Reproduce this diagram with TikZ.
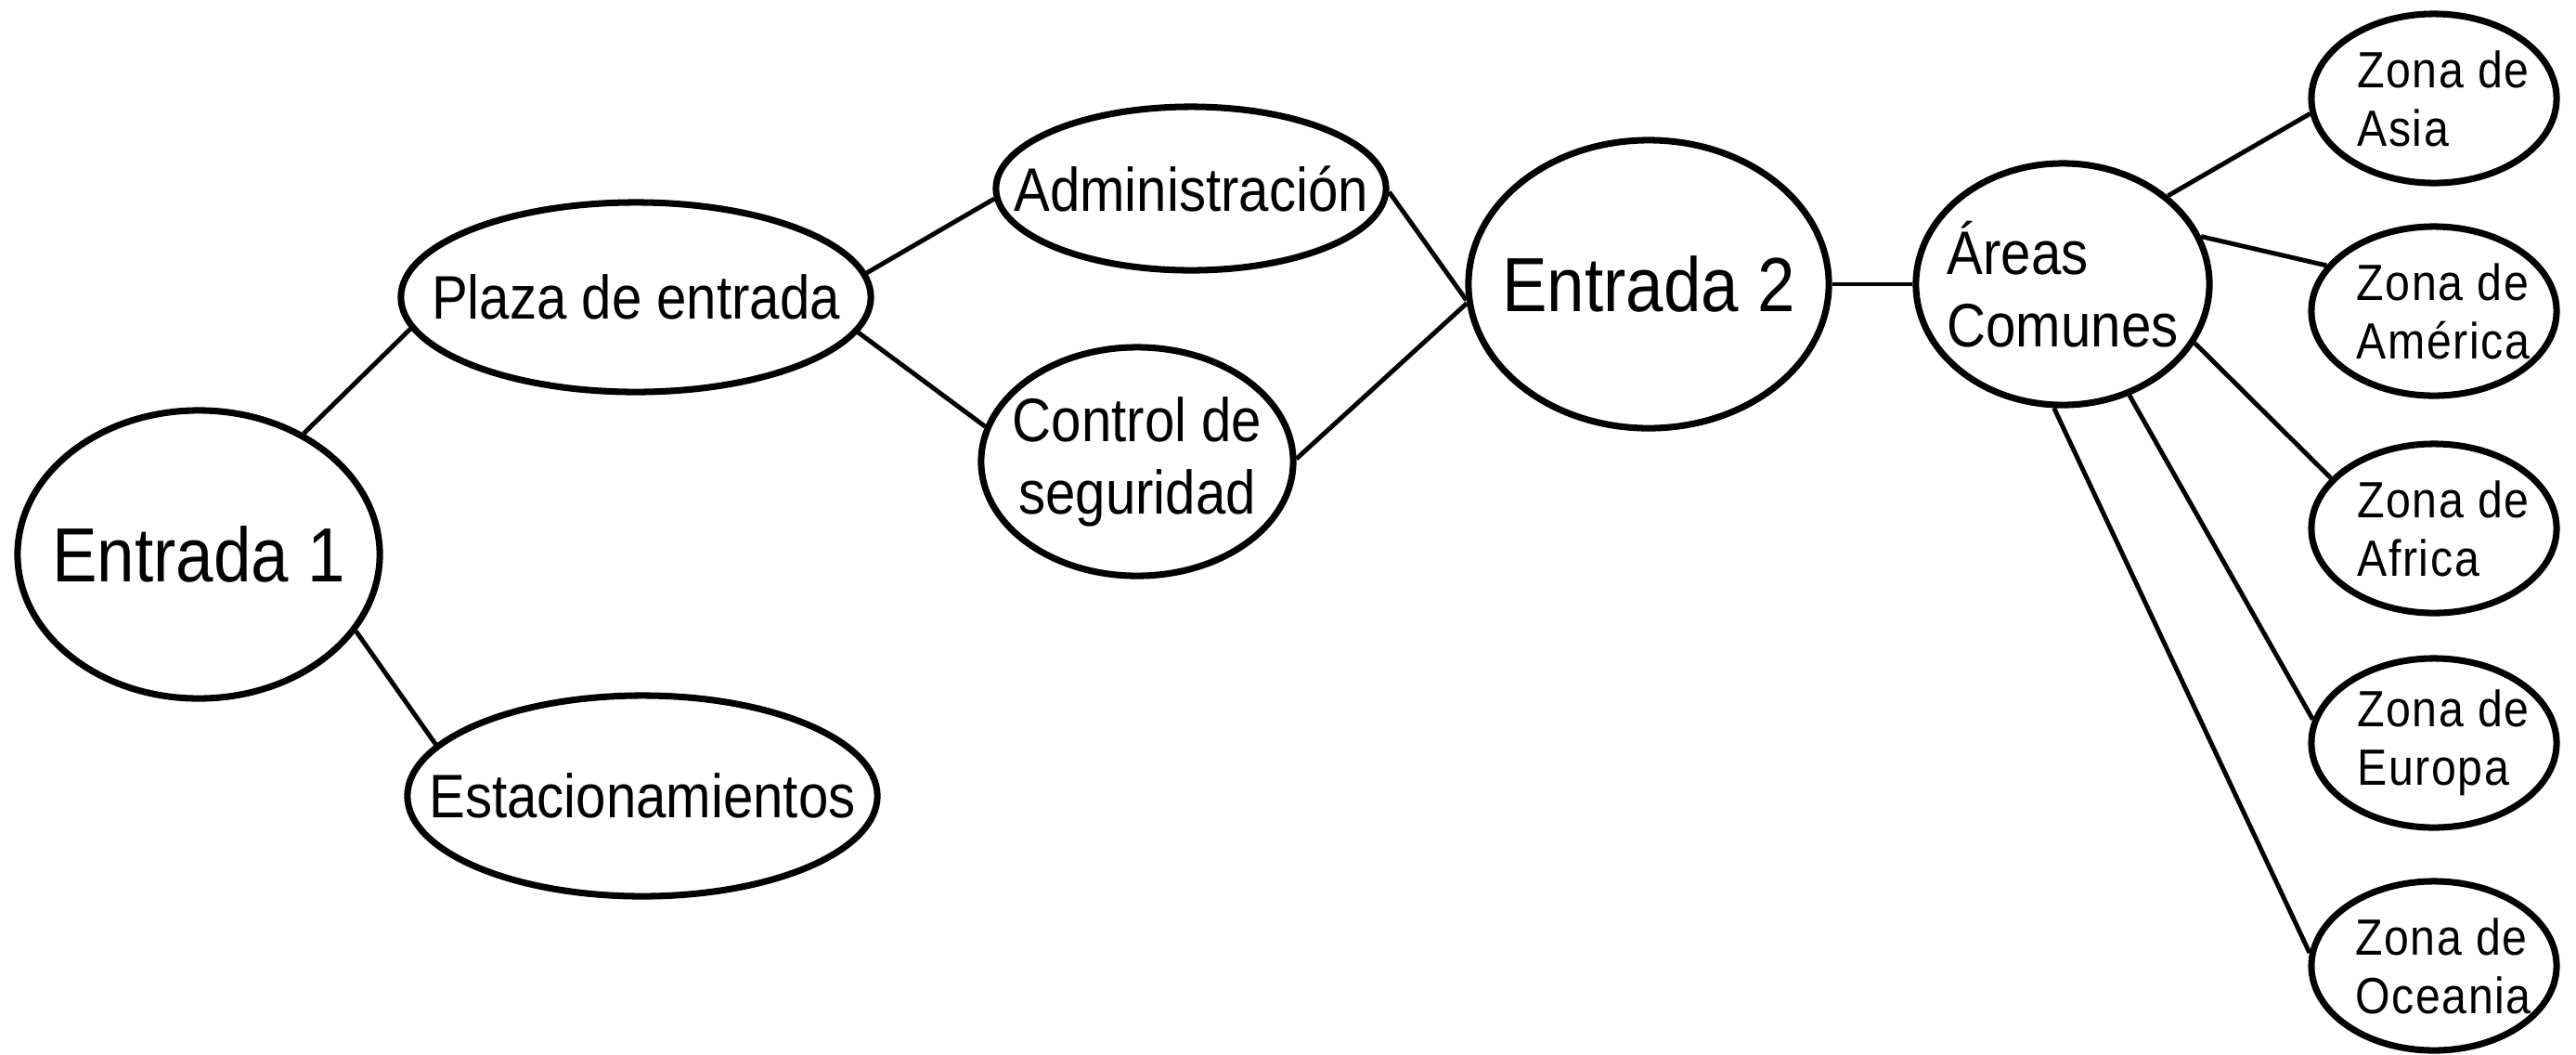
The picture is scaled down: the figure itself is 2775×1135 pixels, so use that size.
\documentclass[tikz,border=0pt]{standalone}
\usepackage{fontspec}
\setmainfont{Liberation Sans}[FakeStretch=0.88]
\newfontfamily\zonefont{Liberation Sans}[FakeStretch=0.88, LetterSpace=3]
\newcommand{\zl}[1]{\hspace*{0.2cm}#1}
\usetikzlibrary{shapes.geometric}
\begin{document}
\begin{tikzpicture}[x=0.01cm,y=-0.01cm,
  ell/.style={draw, line width=2pt, ellipse, inner sep=-3cm, align=center},
  big/.style={ell, font=\fontsize{23.5pt}{28pt}\selectfont},
  mid/.style={ell, font=\fontsize{18.8pt}{22.2pt}\selectfont},
  zone/.style={ell, align=left, minimum width=2.64cm, minimum height=1.82cm, font=\zonefont\fontsize{15.6pt}{17.9pt}\selectfont},
  conn/.style={line width=1.4pt}]
\useasboundingbox (0,0) rectangle (2775,1135);
\node[big, minimum width=3.90cm, minimum height=3.10cm] (e1) at (214,597) {Entrada 1};
\node[mid, minimum width=5.06cm, minimum height=2.04cm] (plaza) at (685,320) {Plaza de entrada};
\node[mid, minimum width=5.06cm, minimum height=2.16cm] (est) at (692,857) {Estacionamientos};
\node[mid, minimum width=4.20cm, minimum height=1.76cm] (adm) at (1283,203) {Administración};
\node[mid, minimum width=3.36cm, minimum height=2.46cm] (ctrl) at (1225,497) {Control de\\seguridad};
\node[big, minimum width=3.88cm, minimum height=3.10cm] (e2) at (1776,306) {Entrada 2};
\node[mid, align=left, minimum width=3.16cm, minimum height=2.60cm] (ac) at (2222,306) {Áreas\\Comunes};
\node[zone] (asia) at (2622,106) {\zl{Zona de}\\\zl{Asia}};
\node[zone] (amer) at (2622,335) {\zl{Zona de}\\\zl{América}};
\node[zone] (afr) at (2622,569) {\zl{Zona de}\\\zl{Africa}};
\node[zone] (eur) at (2622,800) {\zl{Zona de}\\\zl{Europa}};
\node[zone] (oce) at (2622,1040) {\zl{Zona de}\\\zl{Oceania}};
\draw[conn] (e1.49) -- (plaza.188);
\draw[conn] (e1.-26) -- (est.166);
\draw[conn] (plaza.6) -- (adm.183);
\draw[conn] (plaza.-9) -- (ctrl.167);
\draw[conn] (adm.-1) -- (e2.185);
\draw[conn] (ctrl.1) -- (e2.186);
\draw[conn] (e2) -- (ac);
\draw[conn] (ac.40) -- (asia.187);
\draw[conn] (ac.19) -- (amer.157);
\draw[conn] (ac.-24) -- (afr.154);
\draw[conn] (ac.-59) -- (eur.169);
\draw[conn] (ac.-94) -- (oce.174);
\end{tikzpicture}
\end{document}
